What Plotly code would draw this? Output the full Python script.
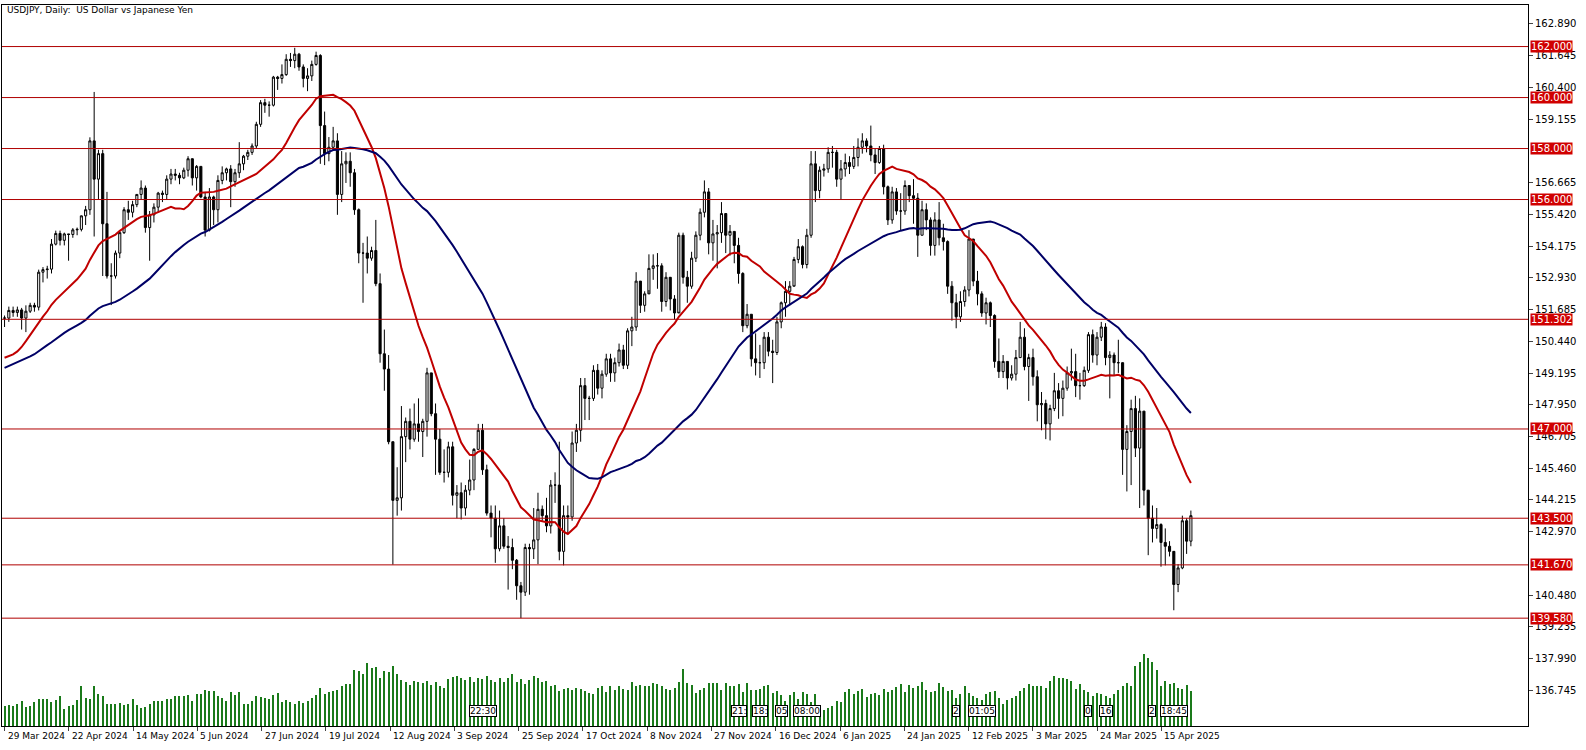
import plotly.graph_objects as go
import pandas as pd

# ---- closes before the visible window (for moving averages), 16 Jan - 28 Mar 2024
prior_closes = [147.2,148.15,148.1,148.15,148.1,148.35,147.5,147.65,148.15,147.5,147.6,146.9,
    146.45,148.4,148.7,147.95,148.1,149.3,149.3,149.35,150.7,150.55,149.95,150.2,150.1,150.15,150.3,150.5,150.5,150.7,150.5,150.65,149.95,
    150.1,150.5,150.0,149.35,147.9,147.05,146.95,147.7,147.8,148.35,149.05,149.15,150.85,151.25,151.6,151.4,151.4,151.55,151.3,151.35]

closes = [151.35,
 # Apr 2024
 151.65,151.57,151.67,151.35,151.62,151.85,151.78,153.15,153.25,153.27,154.25,154.67,154.40,154.65,154.63,154.81,154.83,155.36,155.60,158.30,156.80,157.80,
 # May
 155.05,153.0,153.0,153.9,154.7,155.6,155.5,155.8,156.2,156.45,154.9,155.4,155.7,156.25,156.2,156.8,157.0,156.95,156.85,157.15,157.6,156.85,157.3,
 # Jun
 156.1,154.8,156.1,155.6,156.75,157.05,157.2,156.7,157.05,157.4,157.7,157.85,158.1,158.95,159.8,159.7,159.7,160.8,160.75,160.9,
 # Jul
 161.5,161.45,161.7,161.2,160.75,160.85,161.3,161.65,158.9,157.8,158.05,158.3,156.2,157.4,157.5,157.05,155.6,153.9,153.9,153.7,154.0,152.7,149.95,
 # Aug
 149.35,146.5,144.2,144.3,146.7,147.3,146.6,147.2,146.9,147.3,149.2,147.6,146.6,145.3,145.3,146.3,144.4,144.5,143.9,144.6,145.0,146.2,
 # Sep
 146.95,145.4,143.7,143.5,142.3,143.2,142.4,142.35,141.85,140.85,140.6,142.35,142.3,142.65,143.85,143.6,143.2,144.8,144.8,142.2,143.6,
 # Oct
 143.55,146.45,146.95,148.7,148.2,148.2,149.3,148.6,149.15,149.75,149.2,149.6,150.1,149.5,150.85,151.0,152.8,151.85,152.3,153.3,153.4,153.4,152.0,
 # Nov
 152.95,152.1,151.55,154.6,152.95,152.6,153.7,154.6,155.5,156.3,154.3,154.65,154.7,155.45,154.6,154.75,154.2,153.1,151.05,151.5,149.75,
 # Dec
 149.6,149.6,150.6,150.05,150.0,151.2,151.95,152.4,152.6,153.65,154.15,153.45,154.6,157.4,156.35,157.15,157.2,157.85,157.85,156.8,157.2,
 # Jan 2025
 157.45,157.3,157.65,158.05,158.3,158.1,157.75,157.45,158.0,156.5,155.2,156.3,155.55,155.55,156.55,156.15,156.05,154.6,155.6,155.2,154.2,155.2,
 # Feb
 154.5,154.35,152.6,151.95,151.4,152.0,152.45,154.45,152.8,152.3,151.55,151.95,151.45,149.65,149.25,149.65,149.0,149.15,149.8,150.6,
 # Mar
 149.45,149.8,149.05,147.95,148.0,147.2,147.8,148.5,148.2,148.6,149.2,149.25,148.7,148.7,149.3,150.7,149.9,150.6,151.0,149.8,149.9,
 # Apr 2025
 149.6,149.6,146.2,146.9,147.8,146.25,147.7,144.6,143.5,143.1,143.25,142.55,142.4,142.2,140.9,141.55,143.4,142.6,143.6]

highs = [151.45,
 151.8,151.8,151.8,151.75,151.85,151.95,151.95,153.25,153.35,153.4,154.45,154.78,154.78,154.7,154.65,154.88,154.9,155.37,155.75,158.44,160.22,157.95,
 157.95,156.3,153.5,154.0,154.75,155.7,155.95,155.95,156.2,156.75,156.55,155.55,155.85,156.3,156.35,156.95,157.2,157.2,157.05,157.25,157.7,157.55,157.35,
 157.3,156.3,156.45,156.15,156.95,157.3,157.25,157.35,157.2,158.25,157.75,157.95,158.2,159.05,159.9,159.95,159.85,160.85,160.85,161.3,
 161.7,161.75,161.95,161.75,161.3,161.15,161.45,161.8,161.7,159.45,158.45,158.85,158.6,157.9,157.85,157.85,157.2,155.65,154.3,154.55,154.15,155.2,153.1,
 150.9,149.9,146.5,145.5,147.9,147.45,147.8,148.0,148.2,147.4,149.4,149.2,148.0,147.0,146.2,146.5,146.5,144.8,144.9,144.8,145.8,146.25,
 147.2,147.2,145.6,144.0,144.0,143.8,143.5,142.8,142.7,141.9,141.0,142.5,142.5,143.9,144.5,144.0,144.3,145.0,145.3,146.5,144.0,
 144.0,146.9,147.2,149.0,149.0,148.3,149.5,149.55,149.3,149.95,149.95,149.8,150.35,150.3,150.95,151.4,153.15,152.7,152.4,153.85,153.85,153.9,153.5,
 153.15,152.7,152.25,154.7,154.7,153.2,153.95,154.75,155.65,156.75,156.45,155.2,155.0,155.9,155.0,155.0,154.75,154.5,153.15,151.9,151.5,
 150.75,150.3,150.8,150.8,150.5,151.4,152.0,152.8,152.8,153.75,154.45,154.2,154.85,157.9,157.9,157.3,157.4,158.05,158.1,157.95,157.55,
 157.8,157.7,158.1,158.4,158.6,158.4,158.9,158.0,158.1,158.15,156.55,156.5,156.45,156.25,156.75,156.5,156.8,156.25,155.95,155.85,155.3,155.5,
 155.9,155.05,154.4,152.8,152.3,152.4,152.6,154.8,154.25,153.2,152.4,152.15,152.0,151.5,150.55,149.9,149.65,149.5,150.1,151.2,
 150.95,149.95,150.15,149.3,148.45,148.15,147.95,149.2,148.8,148.9,149.45,150.15,149.95,149.2,149.45,150.8,150.9,150.8,151.2,151.15,150.05,
 150.0,150.5,149.3,147.15,148.15,148.3,148.2,147.7,144.6,144.0,143.9,143.3,143.1,142.6,141.8,141.7,143.6,143.5,143.8]

lows = [151.0,
 151.2,151.4,151.4,150.9,150.8,151.55,151.6,151.65,152.75,152.9,153.1,154.2,154.2,154.2,153.6,154.5,154.6,154.75,155.0,155.4,154.55,156.0,
 153.0,152.9,151.86,152.9,153.7,154.65,155.2,155.3,155.7,156.0,154.7,153.6,155.1,155.5,155.9,156.0,156.6,156.75,156.6,156.8,156.9,156.55,156.35,
 156.05,154.55,154.75,155.0,155.1,156.6,156.75,155.7,156.5,156.85,157.15,157.55,157.75,158.0,158.85,159.4,159.25,159.65,160.3,160.55,
 160.85,161.2,161.15,161.05,160.4,160.25,160.65,161.25,157.4,157.35,157.5,157.95,155.4,155.9,156.65,156.5,155.4,153.5,151.95,153.1,153.6,152.6,149.6,
 148.5,146.4,141.68,143.6,143.8,145.7,146.2,146.5,146.5,145.9,146.7,147.5,145.2,145.2,144.9,145.1,144.0,143.5,143.45,143.6,144.4,144.6,
 146.2,145.2,143.6,142.75,141.75,142.2,142.3,140.7,141.5,140.3,139.58,140.45,140.5,141.9,141.7,143.4,142.95,142.9,144.1,141.85,141.65,
 142.9,143.4,146.1,146.5,147.35,147.35,148.1,148.35,148.2,149.05,148.85,148.85,149.45,149.35,149.35,150.25,150.85,151.55,151.6,152.45,152.85,152.5,151.6,
 151.8,151.65,151.3,151.6,152.7,151.95,152.5,153.55,154.4,155.3,153.85,153.6,153.3,154.3,153.9,153.8,153.5,152.7,150.8,150.95,149.45,
 149.1,149.0,149.35,149.85,148.8,149.9,150.95,151.4,151.85,152.65,153.5,153.3,153.3,154.5,155.9,156.05,156.9,157.05,157.25,156.5,156.0,
 156.9,157.0,157.2,157.3,157.8,157.85,157.5,157.0,157.4,156.2,155.0,155.05,155.4,154.8,155.4,155.9,155.05,153.75,154.6,154.8,153.8,153.8,
 154.2,154.0,152.3,151.25,150.95,151.2,151.8,152.2,152.6,151.85,151.4,151.1,151.0,149.4,149.0,149.0,148.55,148.9,148.9,149.8,
 149.3,148.1,148.7,147.3,146.95,146.6,146.55,147.7,147.4,147.5,148.5,148.9,148.25,148.15,148.65,149.2,149.6,149.5,150.45,149.5,148.2,
 149.1,149.2,145.2,144.55,144.8,145.9,143.9,144.0,142.05,142.55,142.7,141.6,141.65,142.0,139.89,140.6,141.5,142.1,142.4]

volumes = [20,
 21,20,22,25,19,20,24,27,27,27,24,26,30,17,20,21,26,40,28,27,40,32,
 30,22,22,22,23,21,22,27,21,18,19,22,25,25,25,27,27,30,30,30,31,25,32,
 32,36,35,35,30,28,25,34,31,34,22,22,25,30,29,28,27,31,33,24,
 26,24,22,25,23,25,28,31,38,32,34,35,36,40,42,42,56,55,52,63,58,59,48,
 55,54,60,52,46,44,41,45,44,43,45,41,44,40,38,47,49,50,48,46,49,44,
 48,47,50,46,44,48,44,48,52,44,47,42,46,50,48,44,45,40,41,35,37,
 38,36,38,37,35,33,32,38,40,34,40,36,40,37,36,44,40,41,40,40,43,42,40,
 37,36,38,44,57,43,41,33,36,38,43,43,43,36,43,40,40,42,34,43,36,
 36,37,40,41,33,35,31,25,31,34,27,34,32,24,32,20,16,18,20,25,24,
 34,37,32,35,37,29,32,33,31,37,34,36,39,42,34,41,38,40,44,36,34,35,
 43,39,35,36,28,32,40,33,30,28,26,32,34,35,28,22,26,28,30,35,
 38,42,40,40,40,38,45,50,48,48,47,45,37,42,36,34,30,33,32,30,28,
 32,36,40,43,40,60,64,72,68,64,56,40,45,42,43,38,37,41,35]

levels = [162.000, 160.000, 158.000, 156.000, 151.302, 147.000, 143.500, 141.670, 139.580]
price_ticks = [162.890,161.645,160.400,159.155,156.665,155.420,154.175,152.930,151.685,150.440,149.195,
               147.950,146.705,145.460,144.215,142.970,140.480,139.235,137.990,136.745]
date_labels = ["29 Mar 2024","22 Apr 2024","14 May 2024","5 Jun 2024","27 Jun 2024","19 Jul 2024","12 Aug 2024",
               "3 Sep 2024","25 Sep 2024","17 Oct 2024","8 Nov 2024","27 Nov 2024","16 Dec 2024","6 Jan 2025",
               "24 Jan 2025","12 Feb 2025","3 Mar 2025","24 Mar 2025","15 Apr 2025"]
date_label_step = 15.06   # bars between date labels (terminal spaces them evenly)
markers = [("22:30",112),("21:",172),("18:",177),("05",182),("08:00",188),("2",223),("01:05",229),
           ("0",254),("16",258),("2",269),("18:45",274)]

n = min(len(closes), len(highs), len(lows), len(volumes))
closes, highs, lows, volumes = closes[:n], highs[:n], lows[:n], volumes[:n]
opens = [prior_closes[-1]] + closes[:-1]
xs = list(range(n))

full = pd.Series(prior_closes + closes)
ma20 = full.rolling(20).mean().iloc[-n:].tolist()
ma50 = full.rolling(50).mean().iloc[-n:].tolist()

fig = go.Figure()
fig.add_trace(go.Bar(x=xs, y=volumes, yaxis="y2", marker_color="#1a7a1a", marker_line_width=0,
                     width=0.25, hoverinfo="skip"))
fig.add_trace(go.Candlestick(x=xs, open=opens, high=highs, low=lows, close=closes,
    increasing=dict(line=dict(color="black", width=1), fillcolor="white"),
    decreasing=dict(line=dict(color="black", width=1), fillcolor="black"),
    whiskerwidth=0))
fig.add_trace(go.Scatter(x=xs, y=ma20, mode="lines", line=dict(color="#c00000", width=2)))
fig.add_trace(go.Scatter(x=xs, y=ma50, mode="lines", line=dict(color="#000066", width=2)))

for lv in levels:
    fig.add_shape(type="line", xref="paper", x0=0, x1=1, yref="y", y0=lv, y1=lv,
                  line=dict(color="#b00000", width=1))
    fig.add_annotation(xref="paper", x=1, xanchor="left", xshift=2, yref="y", y=lv,
                       text=f"{lv:.3f}", showarrow=False, bgcolor="#d00000",
                       font=dict(color="white", size=10, family="DejaVu Sans"), borderpad=0)

tick_x = []
for k, lab in enumerate(date_labels):
    i = k * date_label_step
    tick_x.append(i)
    fig.add_annotation(x=i, xanchor="left", xshift=1, yref="paper", y=0, yanchor="top", yshift=-3,
                       text=lab, showarrow=False, font=dict(size=9, family="DejaVu Sans", color="black"))

for txt, i in markers:
    fig.add_annotation(x=i, yref="paper", y=0.012, yanchor="bottom", text=txt, showarrow=False,
                       bgcolor="white", bordercolor="black", borderwidth=1, borderpad=0,
                       font=dict(size=9, family="DejaVu Sans", color="black"))

fig.add_annotation(xref="paper", x=0, xanchor="left", xshift=3, yref="paper", y=1, yanchor="top",
                   yshift=2, text="USDJPY, Daily:  US Dollar vs Japanese Yen", showarrow=False,
                   font=dict(size=9, family="DejaVu Sans", color="black"))

fig.update_layout(
    width=1586, height=750, margin=dict(l=2, r=58, t=5, b=24, autoexpand=False),
    paper_bgcolor="white", plot_bgcolor="white", showlegend=False, bargap=0,
    xaxis=dict(range=[-0.6, 357], showgrid=False, zeroline=False, rangeslider=dict(visible=False),
               tickvals=tick_x, showticklabels=False, ticks="outside", ticklen=4, automargin=False,
               showline=True, linecolor="black", linewidth=1, mirror=True),
    yaxis=dict(side="right", range=[135.35, 163.63], showgrid=False, zeroline=False, automargin=False,
               tickvals=price_ticks, ticktext=[f"{v:.3f}" for v in price_ticks],
               ticks="outside", ticklen=4, tickfont=dict(size=10, family="DejaVu Sans", color="black"),
               showline=True, linecolor="black", linewidth=1, mirror=True),
    yaxis2=dict(overlaying="y", range=[0, 721], visible=False),
)
fig.write_html("out.html", config={"displayModeBar": False})

# remove the browser's default page margin so the chart sits at the window's corner
with open("out.html", encoding="utf-8") as f:
    html = f.read()
html = html.replace("<body>", '<body style="margin:0;overflow:hidden">', 1)
with open("out.html", "w", encoding="utf-8") as f:
    f.write(html)
